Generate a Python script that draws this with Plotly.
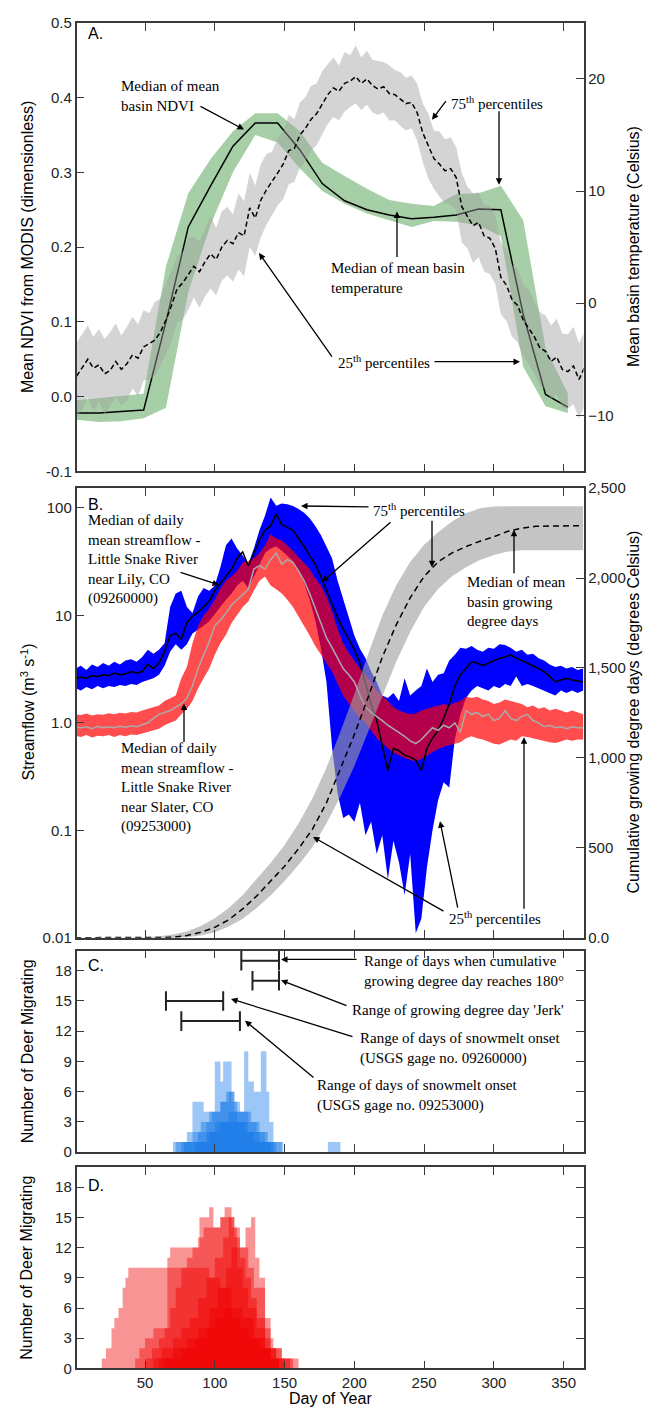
import plotly.graph_objects as go

W, H = 646, 1416
PL, PR = 76.5, 583.5
SANS = "Liberation Sans"
SERIF = "Liberation Serif"

# ---------------- Panel A data ----------------
ND_DAYS = list(range(1, 354, 16))
ND_MED = [-0.022, -0.022, -0.020, -0.018, 0.100, 0.227, 0.282, 0.335, 0.366, 0.366, 0.330, 0.285,
          0.262, 0.250, 0.243, 0.238, 0.240, 0.243, 0.251, 0.250, 0.110, 0.003, -0.014]
ND_P75 = [-0.005, -0.002, 0.000, 0.004, 0.174, 0.272, 0.318, 0.355, 0.379, 0.379, 0.355, 0.313,
          0.295, 0.278, 0.263, 0.258, 0.255, 0.271, 0.272, 0.282, 0.236, 0.065, 0.004]
ND_P25 = [-0.031, -0.034, -0.033, -0.029, -0.015, 0.140, 0.230, 0.300, 0.350, 0.340, 0.305, 0.275,
          0.258, 0.245, 0.236, 0.227, 0.235, 0.234, 0.229, 0.215, 0.040, -0.013, -0.022]

T_DAYS = list(range(1, 366, 4))
T_MED = [-6.5, -5.8, -5.0, -5.8, -5.5, -6.3, -6.0, -5.2, -5.9, -5.4,
         -4.6, -4.9, -3.9, -3.6, -3.3, -2.6, -1.5, -0.2, 1.3, 1.8,
         2.6, 3.3, 2.8, 3.7, 4.4, 3.9, 5.0, 5.6, 5.3, 6.3,
         6.0, 8.5, 7.6, 9.2, 10.1, 10.8, 11.6, 12.4, 13.6, 13.8,
         15.0, 15.6, 16.4, 16.9, 17.8, 18.6, 19.2, 18.9, 19.6, 19.8,
         20.2, 19.6, 20.0, 19.4, 19.1, 19.3, 18.7, 18.6, 18.2, 17.8,
         17.9, 17.0, 15.2, 14.0, 12.9, 12.4, 11.8, 12.0, 11.2, 8.6,
         7.8, 6.9, 7.2, 6.0, 5.8, 4.9, 2.3, 1.6, 0.3, -0.2,
         -1.5, -2.2, -3.0, -4.0, -4.3, -5.2, -4.8, -5.9, -6.1, -5.6,
         -6.8, -5.7]
T_P75 = [-3.5, -2.8, -2.0, -3.0, -2.3, -3.2, -2.6, -1.8, -2.9, -2.1,
         -1.2, -1.9, -0.6, -0.9, 0.1, 0.4, 1.8, 2.9, 4.2, 4.6,
         5.8, 5.9, 5.5, 6.6, 7.8, 6.7, 8.2, 8.6, 7.9, 9.8,
         9.1, 11.6, 10.5, 12.4, 13.3, 13.5, 14.7, 15.3, 16.8, 16.4,
         17.9, 18.4, 19.4, 19.6, 20.7, 21.3, 21.9, 21.2, 22.4, 22.1,
         23.0, 21.9, 22.5, 21.7, 21.6, 21.5, 21.2, 20.8, 20.6, 20.1,
         20.3, 19.6, 17.8, 16.9, 15.4, 15.3, 14.6, 14.8, 13.9, 11.6,
         10.4, 9.8, 9.9, 8.8, 8.7, 7.8, 5.4, 4.8, 3.4, 3.1,
         1.6, 1.2, 0.1, -0.8, -1.1, -2.0, -1.4, -2.7, -2.8, -2.1,
         -3.6, -2.5]
T_P25 = [-10.2, -9.5, -8.4, -9.6, -8.8, -9.9, -9.2, -8.4, -9.1, -8.7,
         -7.6, -8.3, -6.9, -6.8, -6.5, -5.6, -4.6, -3.4, -1.7, -1.5,
         -0.6, 0.5, -0.4, 0.6, 1.3, 0.7, 2.0, 2.5, 1.9, 3.0,
         2.4, 5.0, 4.2, 5.9, 7.0, 7.8, 8.7, 9.3, 10.6, 10.8,
         12.1, 12.7, 13.6, 14.1, 15.1, 16.0, 16.6, 16.3, 17.1, 17.5,
         17.8, 17.2, 17.7, 17.0, 16.8, 17.0, 16.3, 16.3, 15.8, 15.4,
         15.6, 14.5, 12.6, 11.1, 10.2, 9.5, 8.9, 8.8, 8.3, 5.4,
         4.9, 3.6, 4.1, 2.8, 2.6, 1.7, -1.0, -1.6, -3.0, -3.5,
         -4.7, -5.5, -6.3, -7.4, -7.7, -8.6, -8.1, -9.3, -9.4, -9.0,
         -10.3, -9.1]

# ---------------- Panel B data ----------------
SF_DAYS = list(range(0, 365, 4))
LILY_MED = [2.6, 2.65, 2.6, 2.75, 2.7, 2.8, 2.75, 2.9, 2.8, 2.85,
            3.0, 2.9, 3.0, 3.5, 3.2, 3.6, 4.6, 6.5, 6.8, 6.0,
            8.6, 9.8, 10.7, 12.0, 13.5, 17, 20, 23, 27, 34,
            39, 29, 38, 50, 62, 68, 88, 70, 66, 62,
            52, 44, 36, 30, 23, 17, 12.5, 9.5, 7.5, 6.0,
            4.8, 3.6, 2.3, 1.5, 1.05, 0.62, 0.36, 0.58, 0.55, 0.50,
            0.48, 0.45, 0.36, 0.58, 0.72, 0.85, 1.1, 1.5, 2.2, 2.8,
            3.2, 3.7, 3.6, 3.4, 3.6, 3.8, 4.0, 4.1, 4.3, 4.0,
            3.8, 3.6, 3.4, 3.2, 3.0, 2.7, 2.4, 2.5, 2.6, 2.5,
            2.45, 2.4]
LILY_P75 = [3.2, 3.4, 3.1, 3.5, 3.3, 3.6, 3.4, 3.7, 3.5, 3.8,
            3.9, 3.7, 4.1, 4.8, 4.4, 4.8, 5.5, 12, 16, 17,
            12, 10.5, 15, 18, 17, 19, 28, 45, 52, 42,
            36, 30, 42, 62, 85, 125, 105, 110, 108, 104,
            98, 90, 80, 68, 56, 44, 34, 21, 14, 9.5,
            6.5, 4.9, 4.0, 3.0, 2.4, 1.8, 1.7, 1.9, 1.6, 2.6,
            1.8, 2.0, 2.2, 3.2, 2.4, 2.8, 2.9, 3.8, 4.3, 5.0,
            4.9, 5.2, 4.8, 4.6, 5.0, 4.9, 5.4, 5.3, 5.0, 4.6,
            4.8, 4.3, 4.4, 4.0, 3.8, 3.5, 3.3, 3.4, 3.2, 3.3,
            3.1, 3.2]
LILY_P25 = [2.1, 2.0, 2.15, 2.05, 2.2, 2.1, 2.2, 2.15, 2.25, 2.2,
            2.3, 2.25, 2.4, 2.5, 2.6, 2.8, 3.4, 4.6, 5.4, 4.8,
            5.4, 6.8, 7.4, 8.0, 8.8, 10.5, 12, 14, 16, 19,
            21, 18, 23, 30, 38, 42, 44, 40, 36, 32,
            26, 20, 14, 9, 5, 2.4, 0.6, 0.22, 0.13, 0.14,
            0.12, 0.18, 0.09, 0.12, 0.06, 0.09, 0.035, 0.08, 0.05, 0.025,
            0.06, 0.011, 0.015, 0.045, 0.1, 0.19, 0.28, 0.25, 0.7, 1.2,
            1.7, 2.0, 2.2, 2.1, 2.0, 2.2, 2.1, 2.3, 2.2, 2.7,
            2.2, 2.3, 2.2, 2.1, 2.0, 1.9, 1.8, 2.0, 1.9, 2.0,
            1.9, 2.0]
SLATER_MED = [0.91, 0.9, 0.92, 0.88, 0.93, 0.9, 0.92, 0.9, 0.93, 0.91,
              0.94, 0.92, 0.96, 1.0, 1.1, 1.2, 1.25, 1.3, 1.4, 1.5,
              1.7, 2.2, 3.2, 4.3, 5.7, 8.0, 9.0, 10.5, 12.5, 14,
              15.5, 17.5, 27, 29, 27, 33, 38, 30, 33, 31,
              26, 21, 16, 11.5, 8.5, 6.2, 5.0, 4.0, 3.2, 2.8,
              2.4, 1.8, 1.4, 1.25, 1.15, 1.05, 0.95, 0.88, 0.82, 0.75,
              0.68, 0.64, 0.7, 0.8, 0.9, 0.85, 0.95, 0.9, 1.0, 0.82,
              1.3, 1.2, 1.25, 1.15, 1.2, 1.05, 1.1, 1.3, 1.1, 1.05,
              1.15, 1.2, 1.05, 1.0, 0.92, 0.95, 0.9, 0.92, 0.88, 0.92,
              0.9, 0.9]
SLATER_P75 = [1.2, 1.18, 1.22, 1.17, 1.2, 1.19, 1.23, 1.2, 1.24, 1.22,
              1.26, 1.25, 1.3, 1.35, 1.4, 1.45, 1.6, 1.7, 1.8, 2.6,
              3.3, 5.5, 8.0, 10, 11.5, 14, 17.7, 21, 23, 26,
              31, 32, 34, 38, 45, 57, 52, 50, 45, 40,
              35, 31, 27, 22, 19, 15, 11, 7.5, 5.5, 4.5,
              3.8, 3.2, 2.8, 2.4, 2.0, 1.8, 1.6, 1.4, 1.3, 1.25,
              1.2, 1.22, 1.3, 1.35, 1.4, 1.45, 1.5, 1.45, 1.55, 1.6,
              1.75, 1.7, 1.75, 1.65, 1.6, 1.5, 1.55, 1.65, 1.6, 1.55,
              1.5, 1.4, 1.45, 1.35, 1.4, 1.3, 1.35, 1.3, 1.25, 1.3,
              1.25, 1.2]
SLATER_P25 = [0.76, 0.74, 0.77, 0.73, 0.76, 0.75, 0.77, 0.74, 0.77, 0.75,
              0.78, 0.77, 0.8, 0.83, 0.85, 0.88, 0.95, 1.0, 1.05, 1.2,
              1.35, 1.6, 2.1, 2.6, 3.2, 4.3, 5.5, 6.6, 8.5, 10.2,
              12, 13.5, 17, 21, 23, 19, 17.5, 16, 14, 12,
              10, 8, 6.5, 5.2, 4.3, 3.6, 3.0, 2.3, 1.8, 1.5,
              1.3, 1.1, 1.0, 0.85, 0.72, 0.65, 0.58, 0.53, 0.5, 0.47,
              0.45, 0.44, 0.46, 0.5, 0.53, 0.57, 0.6, 0.62, 0.64, 0.66,
              0.72, 0.75, 0.72, 0.7, 0.67, 0.64, 0.63, 0.66, 0.7, 0.68,
              0.75, 0.74, 0.72, 0.7, 0.68, 0.66, 0.65, 0.67, 0.7, 0.68,
              0.7, 0.7]

GDD_DAYS = [0, 10, 20, 30, 40, 50, 60, 70, 80, 90, 100, 110, 120, 130, 140, 150, 160, 170, 180,
            190, 200, 210, 220, 230, 240, 250, 260, 270, 280, 290, 300, 310, 320, 330, 340, 350, 364]
GDD_MED = [0, 0, 0, 0, 0, 0, 0, 2, 12, 30, 58, 100, 160, 232, 315, 398, 495, 604, 750,
           935, 1130, 1340, 1560, 1740, 1890, 2010, 2090, 2140, 2175, 2205, 2230, 2260, 2278, 2288, 2290, 2291, 2292]
GDD_P75 = [0, 0, 0, 0, 0, 2, 8, 18, 35, 65, 108, 165, 238, 325, 415, 515, 635, 775, 945,
           1145, 1355, 1580, 1790, 1960, 2090, 2185, 2255, 2315, 2360, 2388, 2398, 2400, 2400, 2400, 2400, 2400, 2400]
GDD_P25 = [0, 0, 0, 0, 0, 0, 0, 0, 3, 12, 30, 62, 105, 165, 235, 315, 405, 505, 635,
           785, 955, 1145, 1345, 1535, 1700, 1840, 1940, 2010, 2060, 2100, 2128, 2148, 2155, 2155, 2155, 2155, 2155]

# ---------------- Panel C data (blue, stepped) ----------------
C_SERIES = [
    ([70, 80, 84, 92, 100, 112, 124, 132, 140, 149], [1, 2, 5, 4, 3, 3, 2, 1, 1, 0]),
    ([86, 94, 100, 104, 106, 112, 114, 118, 121, 124, 128, 133, 137, 139, 142],
     [1, 2, 9, 7, 9, 6, 5, 4, 10, 7, 6, 10, 6, 3, 0]),
    ([76, 84, 90, 96, 100, 104, 108, 112, 116, 120, 126, 132, 138, 144],
     [1, 2, 3, 4, 4, 5, 6, 5, 4, 4, 3, 2, 1, 0]),
    ([72, 80, 88, 94, 98, 104, 110, 114, 118, 124, 130, 136, 142, 148],
     [1, 1, 2, 3, 4, 5, 6, 4, 4, 3, 2, 1, 1, 0]),
    ([78, 96, 104, 110, 116, 122, 128, 140], [1, 2, 3, 4, 3, 2, 1, 0]),
    ([181, 190], [1, 0]),
]
RANGE_START = [119, 127, 65, 76]
RANGE_END = [146, 146, 106, 118]
RANGE_Y = [19, 17, 15, 13]

# ---------------- Panel D data (red, stepped) ----------------
D_SERIES = [
    ([19, 22, 26, 28, 31, 34, 36, 38, 40, 88, 96, 104, 112, 120, 128, 136, 144, 152, 160],
     [1, 2, 4, 5, 6, 8, 9, 10, 10, 10, 9, 8, 6, 5, 3, 2, 1, 1, 0]),
    ([43, 46, 50, 56, 63, 66, 68, 88, 89, 96, 99, 104, 107, 112, 116, 122, 126, 129, 132, 136, 140, 148, 156],
     [1, 2, 3, 4, 4, 11, 12, 12, 15, 16, 14, 15, 16, 14, 12, 14, 15, 11, 8, 5, 2, 1, 0]),
    ([50, 55, 60, 64, 68, 72, 76, 80, 84, 88, 92, 98, 104, 110, 114, 118, 124, 128, 132, 136, 140, 146],
     [1, 2, 3, 4, 6, 8, 10, 11, 12, 13, 14, 14, 15, 15, 14, 12, 10, 8, 9, 4, 1, 0]),
    ([56, 62, 70, 76, 82, 88, 94, 100, 106, 110, 114, 118, 122, 126, 130, 136, 142, 148, 154],
     [1, 2, 3, 4, 5, 7, 9, 11, 13, 15, 13, 11, 9, 7, 5, 3, 2, 1, 0]),
    ([60, 70, 80, 88, 96, 102, 108, 112, 116, 120, 124, 130, 136, 144, 150],
     [1, 2, 3, 4, 6, 8, 10, 12, 10, 8, 6, 4, 2, 1, 0]),
    ([64, 76, 86, 94, 100, 106, 112, 118, 124, 132, 140, 146],
     [1, 2, 3, 4, 5, 6, 5, 4, 3, 2, 1, 0]),
]

X_TICKS = [50, 100, 150, 200, 250, 300, 350]

fig = go.Figure()


def band(x, lo, hi, color, xa, ya):
    xs = list(x) + list(x)[::-1]
    ys = list(hi) + list(lo)[::-1]
    fig.add_trace(go.Scatter(x=xs, y=ys, fill="toself", fillcolor=color, mode="lines",
                             line=dict(width=0), xaxis=xa, yaxis=ya, hoverinfo="skip", showlegend=False))


def line(x, y, color, xa, ya, dash="solid", width=1.5):
    fig.add_trace(go.Scatter(x=x, y=y, mode="lines", line=dict(color=color, width=width, dash=dash),
                             xaxis=xa, yaxis=ya, hoverinfo="skip", showlegend=False))


# Panel A
band(ND_DAYS, ND_P25, ND_P75, "rgba(80,160,80,0.5)", "x", "y")
line(ND_DAYS, ND_MED, "black", "x", "y")
band(T_DAYS, T_P25, T_P75, "rgba(160,160,160,0.45)", "x", "y2")
line(T_DAYS, T_MED, "black", "x", "y2", dash="5px,3px")

# Panel B
band(SF_DAYS, LILY_P25, LILY_P75, "rgb(0,0,255)", "x2", "y3")
band(SF_DAYS, SLATER_P25, SLATER_P75, "rgba(255,0,0,0.7)", "x2", "y3")
line(SF_DAYS, LILY_MED, "black", "x2", "y3", width=1.5)
line(SF_DAYS, SLATER_MED, "#aaaaaa", "x2", "y3", width=1.5)
band(GDD_DAYS, GDD_P25, GDD_P75, "rgba(160,160,160,0.62)", "x2", "y4")
line(GDD_DAYS, GDD_MED, "black", "x2", "y4", dash="6px,4px")

# Panel C
for xs, ys in C_SERIES:
    fig.add_trace(go.Scatter(x=xs, y=ys, mode="lines", line=dict(width=0, shape="hv"), fill="tozeroy",
                             fillcolor="rgba(20,120,230,0.42)", xaxis="x3", yaxis="y5",
                             hoverinfo="skip", showlegend=False))
for s, e, yv in zip(RANGE_START, RANGE_END, RANGE_Y):
    fig.add_trace(go.Scatter(x=[s, e], y=[yv, yv], mode="lines+markers",
                             line=dict(color="#222", width=2),
                             marker=dict(symbol="line-ns", size=14, line=dict(width=2, color="#222")),
                             xaxis="x3", yaxis="y5", hoverinfo="skip", showlegend=False))

# Panel D
for xs, ys in D_SERIES:
    fig.add_trace(go.Scatter(x=xs, y=ys, mode="lines", line=dict(width=0, shape="hv"), fill="tozeroy",
                             fillcolor="rgba(240,0,0,0.42)", xaxis="x4", yaxis="y6",
                             hoverinfo="skip", showlegend=False))

AX = "#3a3a3a"
tickfont = dict(family=SANS, size=15, color="#222")


def xax(anchor, labels):
    return dict(domain=[PL / W, PR / W], range=[0.9, 364.2], anchor=anchor, showline=True,
                linecolor=AX, linewidth=1.5, mirror="ticks", ticks="inside", ticklen=8, tickwidth=1.3,
                tickcolor=AX, tickvals=X_TICKS, showticklabels=labels, showgrid=False, zeroline=False,
                tickfont=tickfont)


def dom(top, bottom):
    return [1 - bottom / H, 1 - top / H]


yb = dict(showline=True, linecolor=AX, linewidth=1.5, ticks="inside", ticklen=8, tickwidth=1.3,
          tickcolor=AX, showgrid=False, zeroline=False, tickfont=tickfont)

fig.update_layout(
    width=W, height=H, autosize=False, margin=dict(l=0, r=0, t=0, b=0),
    paper_bgcolor="white", plot_bgcolor="white", showlegend=False,
    xaxis=xax("y", False),
    yaxis=dict(**yb, domain=dom(14, 468), range=[-0.1, 0.5], anchor="x",
               tickvals=[-0.1, 0, 0.1, 0.2, 0.3, 0.4, 0.5],
               ticktext=["-0.1", "0.0", "0.1", "0.2", "0.3", "0.4", "0.5"]),
    yaxis2=dict(**yb, overlaying="y", side="right", anchor="x", range=[-15, 25],
                tickvals=[-10, 0, 10, 20]),
    xaxis2=xax("y3", False),
    yaxis3=dict(**yb, domain=dom(485, 940), type="log", range=[-2, 2.184], anchor="x2",
                tickvals=[0.01, 0.1, 1, 10, 100], ticktext=["0.01", "0.1", "1.0", "10", "100"]),
    yaxis4=dict(**yb, overlaying="y3", side="right", anchor="x2", range=[0, 2500],
                tickvals=[0, 500, 1000, 1500, 2000, 2500],
                ticktext=["0.0", "500", "1,000", "1,500", "2,000", "2,500"]),
    xaxis3=xax("y5", False),
    yaxis5=dict(**yb, domain=dom(953, 1157), range=[0, 20], anchor="x3", mirror="ticks",
                tickvals=[0, 3, 6, 9, 12, 15, 18]),
    xaxis4=xax("y6", True),
    yaxis6=dict(**yb, domain=dom(1172, 1376), range=[0, 20], anchor="x4", mirror="ticks",
                tickvals=[0, 3, 6, 9, 12, 15, 18]),
)


def text(x, y, s, size=15, family=SERIF, xanchor="left", angle=0):
    fig.add_annotation(x=x / W, y=1 - y / H, xref="paper", yref="paper", text=s, showarrow=False,
                       xanchor=xanchor, yanchor="middle", align="left", textangle=angle,
                       font=dict(family=family, size=size, color="black"))


def arrow(tx, ty, hx, hy):
    fig.add_annotation(x=hx / W, y=1 - hy / H, xref="paper", yref="paper", ax=tx - hx, ay=ty - hy,
                       axref="pixel", ayref="pixel", text="", showarrow=True, arrowhead=2,
                       arrowsize=1, arrowwidth=1.3, arrowcolor="black", standoff=0, startstandoff=0)


# Panel labels
text(86, 25, "A.", 16, SANS)
text(86, 502, "B.", 16, SANS)
text(86, 968, "C.", 16, SANS)
text(86, 1191, "D.", 16, SANS)

# Axis titles
text(27, 241, "Mean NDVI from MODIS (dimensionless)", 16, SANS, "center", -90)
text(633, 241, "Mean basin temperature (Celsius)", 16, SANS, "center", -90)
text(28, 712, "Streamflow (m<sup>3</sup> s<sup>-1</sup>)", 16, SANS, "center", -90)
text(633, 712, "Cumulative growing degree days (degrees Celsius)", 16, SANS, "center", -90)
text(27, 1055, "Number of Deer Migrating", 16, SANS, "center", -90)
text(27, 1274, "Number of Deer Migrating", 16, SANS, "center", -90)
text(330, 1406, "Day of Year", 16, SANS, "center")

# Panel A annotations
text(119, 88, "Median of mean<br>basin NDVI")
arrow(199, 98, 244, 122)
text(449, 95, "75<sup>th</sup> percentiles")
arrow(447, 92, 432, 112)
arrow(499, 103, 499, 178)
text(329, 272, "Median of mean basin<br>temperature")
arrow(397, 252, 397, 205)
text(336, 357, "25<sup>th</sup> percentiles")
arrow(333, 352, 259, 247)
arrow(433, 357, 520, 357)

# Panel B annotations
text(86, 557, "Median of daily<br>mean streamflow -<br>Little Snake River<br>near Lily, CO<br>(09260000)")
arrow(179, 570, 219, 583)
text(371, 507, "75<sup>th</sup> percentiles")
arrow(370, 504, 301, 503)
arrow(392, 519, 322, 580)
arrow(432, 517, 432, 565)
text(465, 600, "Median of mean<br>basin growing<br>degree days")
arrow(514, 572, 514, 527)
text(119, 788, "Median of daily<br>mean streamflow -<br>Little Snake River<br>near Slater, CO<br>(09253000)")
arrow(184, 743, 184, 703)
text(447, 920, "25<sup>th</sup> percentiles")
arrow(445, 913, 313, 838)
arrow(458, 910, 440, 822)
arrow(524, 910, 524, 737)

# Panel C annotations
text(362, 974, "Range of days when cumulative<br>growing degree day reaches 180°")
arrow(358, 962, 281, 962)
text(350, 1013, "Range of growing degree day 'Jerk'")
arrow(348, 1009, 281, 983)
text(358, 1052, "Range of days of snowmelt onset<br>(USGS gage no. 09260000)")
arrow(354, 1040, 231, 1002)
text(315, 1100, "Range of days of snowmelt onset<br>(USGS gage no. 09253000)")
arrow(315, 1082, 245, 1024)

fig.write_html("out.html", config={"displayModeBar": False},
               post_script="document.body.style.margin='0';")
